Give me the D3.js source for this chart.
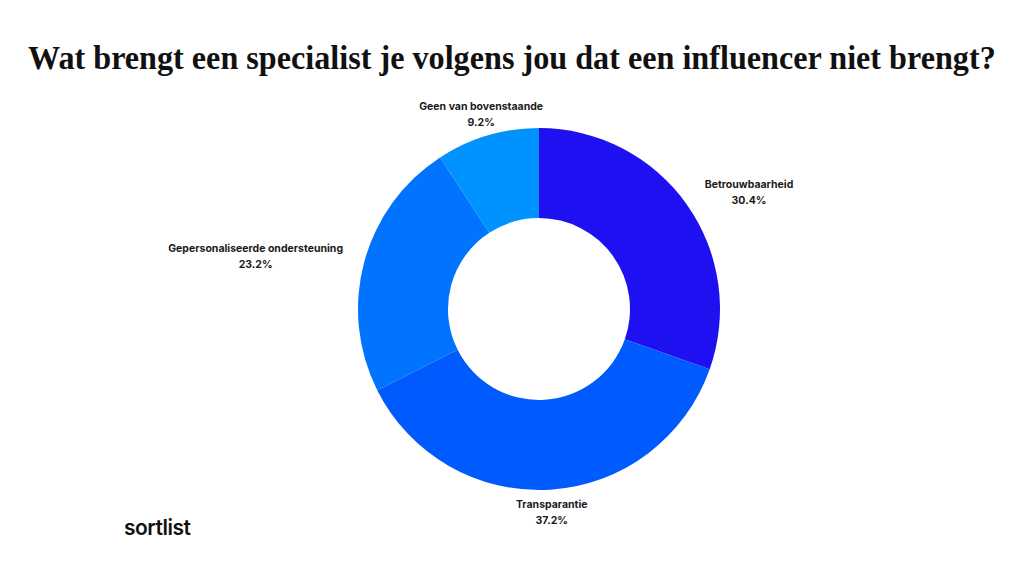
<!DOCTYPE html>
<html>
<head>
<meta charset="utf-8">
<script src="https://d3js.org/d3.v7.min.js"></script>
<style>
  body { margin: 0; background: #fff; }
  svg { display: block; }
</style>
</head>
<body>
<svg width="1024" height="576"></svg>
<script>
var categories = ["Betrouwbaarheid", "Transparantie", "Gepersonaliseerde ondersteuning", "Geen van bovenstaande"];
var values = [30.4, 37.2, 23.2, 9.2];
var colors = ["#1f10f2", "#005bff", "#0073ff", "#0093ff"];
var title = "Wat brengt een specialist je volgens jou dat een influencer niet brengt?";

var svg = d3.select("svg"),
    width = +svg.attr("width"),
    height = +svg.attr("height");

svg.append("rect").attr("width", width).attr("height", height).attr("fill", "#fff");

// title: condensed look by squeezing the serif horizontally to the reference width
var titleText = svg.append("text")
  .attr("x", 0).attr("y", 0)
  .style("font-family", "'Liberation Serif', 'DejaVu Serif', serif")
  .style("font-weight", "bold")
  .style("font-size", "34px")
  .attr("fill", "#111")
  .text(title);
var tw = titleText.node().getComputedTextLength();
titleText.attr("transform", "translate(28,69) scale(" + (968 / tw) + ",1)");

var cx = 539, cy = 309, outer = 181, inner = 91, labelR = 203;

var data = categories.map(function(c, i) { return {name: c, value: values[i], color: colors[i]}; });

var pie = d3.pie().sort(null).value(function(d) { return d.value; });
var arc = d3.arc().innerRadius(inner).outerRadius(outer);

var g = svg.append("g").attr("transform", "translate(" + cx + "," + cy + ")");
var arcs = pie(data);

g.selectAll("path")
  .data(arcs)
  .enter().append("path")
  .attr("d", arc)
  .attr("fill", function(d) { return d.data.color; });

g.selectAll("g.lbl")
  .data(arcs)
  .enter().append("g")
  .attr("class", "lbl")
  .each(function(d) {
    var a = (d.startAngle + d.endAngle) / 2;
    var s = Math.sin(a), c = -Math.cos(a);
    var x = labelR * s, y = labelR * c;
    var t = d3.select(this).append("text")
      .attr("text-anchor", "middle")
      .style("font-family", "Inter, 'Noto Sans', sans-serif")
      .style("font-weight", "700")
      .style("font-size", "10.5px")
      .attr("fill", "#1a1a1a");
    var l1 = t.append("tspan").attr("y", y - 4).text(d.data.name);
    var l2 = t.append("tspan").attr("y", y + 12).text(d.data.value.toFixed(1) + "%");
    var w = Math.max(l1.node().getComputedTextLength(), l2.node().getComputedTextLength());
    // side labels hang off the anchor point, top/bottom ones centre on it
    var mx = s > 0.7 ? x + w / 2 : (s < -0.7 ? x - w / 2 : x);
    l1.attr("x", mx);
    l2.attr("x", mx);
  });

svg.append("text")
  .attr("x", 124).attr("y", 535)
  .style("font-family", "Inter, 'Noto Sans', sans-serif")
  .style("font-weight", "600")
  .style("font-size", "21px")
  .style("letter-spacing", "-0.5px")
  .attr("fill", "#111")
  .text("sortlist");
</script>
</body>
</html>
